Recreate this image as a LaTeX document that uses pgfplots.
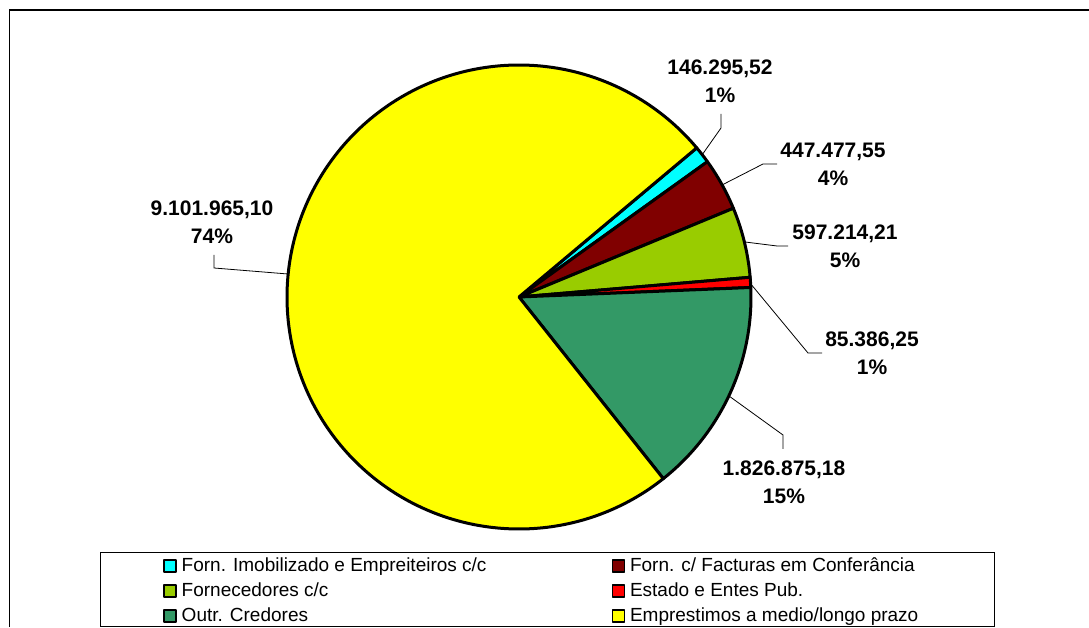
\documentclass[border=0pt]{standalone}
\usepackage{fontspec}
\setmainfont{Liberation Sans}
\usepackage{pgfplots}
\usepackage{pgfplotstable}
\pgfplotsset{compat=1.18}

\definecolor{cimob}{RGB}{0,255,255}
\definecolor{cfact}{RGB}{128,0,0}
\definecolor{cforn}{RGB}{153,204,0}
\definecolor{cest}{RGB}{255,0,0}
\definecolor{coutr}{RGB}{51,153,102}
\definecolor{cemp}{RGB}{255,255,0}

% valores (EUR)
\pgfplotstableread{
value
146295.52
447477.55
597214.21
85386.25
1826875.18
9101965.10
}\piedata

\newcommand\getv[2]{\pgfplotstablegetelem{#1}{value}\of\piedata\edef#2{\pgfplotsretval}}
\getv{0}\vA \getv{1}\vB \getv{2}\vC \getv{3}\vD \getv{4}\vE \getv{5}\vF
\edef\tot{\fpeval{\vA+\vB+\vC+\vD+\vE+\vF}}
% angulos acumulados (sentido horario a partir de 40 graus)
\def\aA{40}
\edef\aB{\fpeval{round(\aA-360*\vA/\tot,4)}}
\edef\aC{\fpeval{round(\aB-360*\vB/\tot,4)}}
\edef\aD{\fpeval{round(\aC-360*\vC/\tot,4)}}
\edef\aE{\fpeval{round(\aD-360*\vD/\tot,4)}}
\edef\aF{\fpeval{round(\aE-360*\vE/\tot,4)}}
\edef\aG{\fpeval{round(\aF-360*\vF/\tot,4)}}

\newcommand\lab{\fontsize{21}{28}\selectfont\bfseries}
\def\cx{519}\def\cy{330}\def\rr{232}

\begin{document}
\begin{tikzpicture}
\begin{axis}[
  at={(0,0)}, anchor=south west,
  width=1089pt, height=627pt, scale only axis,
  xmin=0, xmax=1089, ymin=0, ymax=627,
  hide axis, clip=false,
  every axis plot post/.append style={draw=black, line width=3pt, line join=round},
  legend columns=2,
  legend image code/.code={\draw[#1,line width=1.5pt] (0pt,-6pt) rectangle (12pt,6pt);},
  legend style={draw=none, fill=none,
    at={(axis description cs:0.1497,0.1132)}, anchor=north west,
    inner sep=0pt, row sep=5pt,
    font=\fontsize{19}{24}\selectfont,
    cells={anchor=west},
    nodes={inner sep=1pt, text height=14pt, text depth=4pt},
    /tikz/every odd column/.append style={column sep=4pt},
    /tikz/every even column/.append style={column sep=124pt}},
]
\addplot[fill=cimob, domain=\aB:\aA, samples=10]
  ({\cx+\rr*cos(x)},{\cy+\rr*sin(x)}) -- (axis cs:\cx,\cy) -- cycle;
\addplot[fill=cfact, domain=\aC:\aB, samples=20]
  ({\cx+\rr*cos(x)},{\cy+\rr*sin(x)}) -- (axis cs:\cx,\cy) -- cycle;
\addplot[fill=cforn, domain=\aD:\aC, samples=20]
  ({\cx+\rr*cos(x)},{\cy+\rr*sin(x)}) -- (axis cs:\cx,\cy) -- cycle;
\addplot[fill=cest, domain=\aE:\aD, samples=10]
  ({\cx+\rr*cos(x)},{\cy+\rr*sin(x)}) -- (axis cs:\cx,\cy) -- cycle;
\addplot[fill=coutr, domain=\aF:\aE, samples=60]
  ({\cx+\rr*cos(x)},{\cy+\rr*sin(x)}) -- (axis cs:\cx,\cy) -- cycle;
\addplot[fill=cemp, domain=\aG:\aF, samples=240]
  ({\cx+\rr*cos(x)},{\cy+\rr*sin(x)}) -- (axis cs:\cx,\cy) -- cycle;
\legend{Forn. Imobilizado e Empreiteiros c/c, Forn. c/ Facturas em Conferância,
  Fornecedores c/c, Estado e Entes Pub., Outr. Credores, Emprestimos a medio/longo prazo}

% linhas de chamada
\draw[line width=0.8pt] (axis cs:702,472) -- (axis cs:721,499) -- (axis cs:721,513);
\draw[line width=0.8pt] (axis cs:722,442) -- (axis cs:763,463) -- (axis cs:777,463);
\draw[line width=0.8pt] (axis cs:745,385) -- (axis cs:777,381) -- (axis cs:788,381);
\draw[line width=0.8pt] (axis cs:750,344) -- (axis cs:808,274) -- (axis cs:822,274);
\draw[line width=0.8pt] (axis cs:729,231) -- (axis cs:783,192) -- (axis cs:783,178);
\draw[line width=0.8pt] (axis cs:288,353) -- (axis cs:214,359) -- (axis cs:214,372);

% rotulos
\node[font=\lab, align=center, inner sep=0pt] at (axis cs:720,546) {146.295,52\\1\%};
\node[font=\lab, align=center, inner sep=0pt] at (axis cs:833,463) {447.477,55\\4\%};
\node[font=\lab, align=center, inner sep=0pt] at (axis cs:845,380.5) {597.214,21\\5\%};
\node[font=\lab, align=center, inner sep=0pt] at (axis cs:872,274) {85.386,25\\1\%};
\node[font=\lab, align=center, inner sep=0pt] at (axis cs:784,145) {1.826.875,18\\15\%};
\node[font=\lab, align=center, inner sep=0pt] at (axis cs:212,404.5) {9.101.965,10\\74\%};

% molduras
\draw[line width=1.5pt] (axis cs:9.5,0) -- (axis cs:9.5,617) -- (axis cs:1089,617);
\draw[line width=1pt] (axis cs:100,1) rectangle (axis cs:994,75);
\end{axis}
\pgfresetboundingbox
\path[use as bounding box] (0,0) rectangle (1089pt,627pt);
\end{tikzpicture}
\end{document}
